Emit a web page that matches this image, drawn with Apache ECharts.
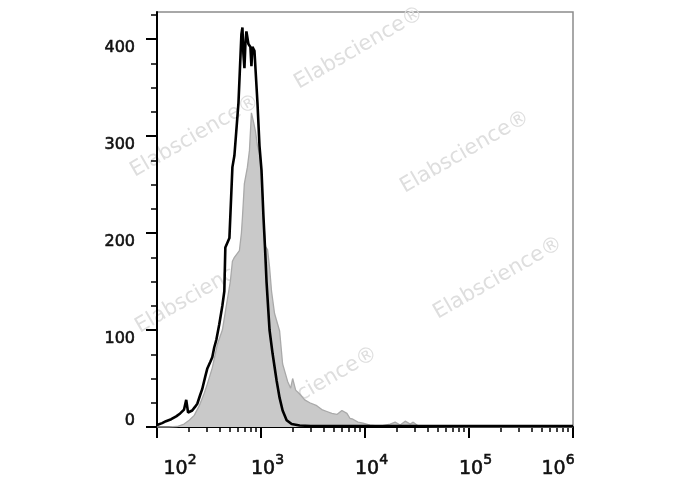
<!DOCTYPE html>
<html><head><meta charset="utf-8">
<script src="https://cdn.jsdelivr.net/npm/echarts@6/dist/echarts.min.js"></script>
<style>html,body{margin:0;padding:0;background:#fff}#c{width:688px;height:490px}</style>
</head><body><div id="c"></div>
<script>
// Black (unfilled) histogram: intensity values and counts
const blackX = [100,112,122,137,153,167,182,191,199,218,233,244,260,272,291,304,325,340,355,372,397,425,444,454,497,531,555,607,648,663,677,693,708,724,757,791,809,827,865,925,967,1011,1057,1093,1130,1208,1291,1412,1510,1614,1764,1971,2355,3000,5000,10000,30000,100000,300000,1000000];
const blackY = [2,4,6,8,11,14,18,28,15,17,21,24,33,39,52,60,67,72,82,90,106,125,140,185,195,268,280,334,405,412,385,370,395,408,395,392,372,392,388,334,290,265,216,185,150,100,76,48,30,17,7,3,1.5,1,1,1,1,1,1,1];
// Gray (filled) histogram
const grayX = [100,130,156,182,204,228,255,285,304,340,380,425,464,507,531,555,620,648,663,677,692,740,774,809,846,885,925,967,1011,1057,1105,1156,1208,1263,1350,1510,1614,1803,1928,2015,2154,2355,2633,2943,3439,3843,4296,4802,5366,5995,6700,7163,7658,8558,9565,11175,13963,17444,19490,21786,24354,27218,29092,32516,42462,100000,1000000];
const grayY = [0,0,0.5,3,7,12,22,35,44,61,85,100,125,150,171,175,182,200,216,233,251,268,285,324,315,305,290,282,262,216,186,183,165,140,117,99,65,47,40,50,38,34,28,25,22,18,16,14,13,17,14,9,8,5,4,2,1,3,5,2,6,3,5,1,0.5,0,0];
// Axis ticks
const xTickValues = [100,1000,10000,100000,1000000];
const xMinorTickValues = [200,300,400,500,600,700,800,900,2000,3000,4000,5000,6000,7000,8000,9000,20000,30000,40000,50000,60000,70000,80000,90000,200000,300000,400000,500000,600000,700000,800000,900000];
const yTickValues = [0,100,200,300,400];
const yMinorTickValues = [25,50,75,125,150,175,225,250,275,325,350,375,425];
const watermarkText = 'Elabscience®';

const FF = '"DejaVu Sans", "Liberation Sans", Arial, sans-serif';
const pairs = (xs, ys) => xs.map((x, i) => [x, ys[i]]);
const txt = {fontFamily: FF, color: '#111', textBorderColor: '#111', textBorderWidth: 0.6};

const chart = echarts.init(document.getElementById('c'), null, {renderer: 'canvas'});
const wm = [[359,48],[195,136],[465,152],[498,278],[200,292],[313,388]];
chart.setOption({
  animation: false,
  backgroundColor: '#ffffff',
  grid: {left: 157, right: 115, top: 12, bottom: 63, show: true, borderColor: '#8c8c8c', borderWidth: 1.5, backgroundColor: 'transparent'},
  graphic: wm.map(p => ({
    type: 'text', x: p[0], y: p[1], rotation: Math.PI / 6, z: 0, silent: true,
    style: {text: watermarkText, fill: '#dedede', font: '21px ' + FF, align: 'center', verticalAlign: 'middle'}
  })),
  xAxis: [{
    type: 'log', logBase: 10, min: 100, max: 1000000, position: 'bottom',
    axisLine: {show: true, lineStyle: {color: '#000', width: 2}},
    axisTick: {show: true, length: 11, lineStyle: {color: '#000', width: 2}, customValues: xTickValues},
    splitLine: {show: false}, minorTick: {show: false},
    axisLabel: {
      show: true, margin: 26, customValues: xTickValues, color: '#111', fontFamily: FF,
      formatter: function (v) {
        const e = Math.round(Math.log10(v));
        const s = v === xTickValues[0] ? 'L' : (v === xTickValues[xTickValues.length - 1] ? 'R' : 'M');
        return '{b' + s + '|10}{e' + s + '|' + e + '}';
      },
      rich: {
        bL: Object.assign({fontSize: 19, padding: [0, 0, 0, 46]}, txt),
        eL: Object.assign({fontSize: 14, padding: [0, 0, 19, 0]}, txt),
        bM: Object.assign({fontSize: 19, padding: [0, 0, 0, 13]}, txt),
        eM: Object.assign({fontSize: 14, padding: [0, 0, 19, 0]}, txt),
        bR: Object.assign({fontSize: 19}, txt),
        eR: Object.assign({fontSize: 14, padding: [0, 30, 19, 0]}, txt)
      }
    }
  }, {
    type: 'log', logBase: 10, min: 100, max: 1000000, position: 'bottom', offset: 0,
    axisLine: {show: false}, splitLine: {show: false},
    axisTick: {show: true, length: 5, lineStyle: {color: '#000', width: 1.5}, customValues: xMinorTickValues},
    axisLabel: {show: false}
  }],
  yAxis: [{
    type: 'value', min: 0, max: 428, position: 'left',
    axisLine: {show: true, lineStyle: {color: '#000', width: 2}},
    axisTick: {show: true, length: 11, lineStyle: {color: '#000', width: 2}, customValues: yTickValues},
    splitLine: {show: false},
    axisLabel: {
      show: true, margin: 22, customValues: yTickValues, color: '#111', fontFamily: FF, fontSize: 16,
      formatter: function (v) { return v === 0 ? '{z|0}' : '{d|' + v + '}'; },
      rich: {
        d: Object.assign({fontSize: 16, padding: [18, 0, 0, 0]}, txt),
        z: Object.assign({fontSize: 16, padding: [0, 0, 12, 0]}, txt)
      }
    }
  }, {
    type: 'value', min: 0, max: 428, position: 'left', offset: 0,
    axisLine: {show: false}, splitLine: {show: false},
    axisTick: {show: true, length: 6, lineStyle: {color: '#000', width: 1.5}, customValues: yMinorTickValues},
    axisLabel: {show: false}
  }],
  series: [{
    type: 'line', name: 'control', xAxisIndex: 0, yAxisIndex: 0, z: 3,
    data: pairs(grayX, grayY), showSymbol: false, symbol: 'none',
    lineStyle: {color: '#a9a9a9', width: 1.3},
    areaStyle: {color: '#c9c9c9', opacity: 1}
  }, {
    type: 'line', name: 'stained', xAxisIndex: 0, yAxisIndex: 0, z: 4,
    data: pairs(blackX, blackY), showSymbol: false, symbol: 'none',
    lineStyle: {color: '#000', width: 2.6}
  }]
});
</script></body></html>
